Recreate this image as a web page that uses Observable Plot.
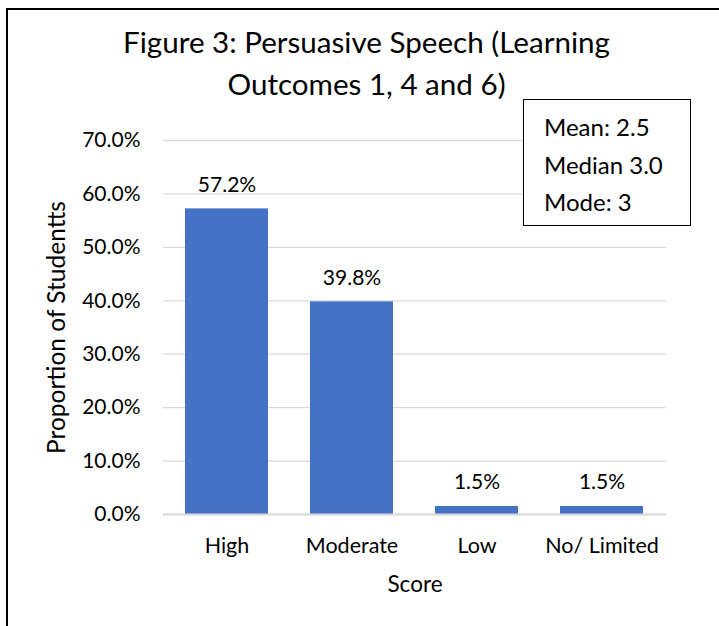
<!DOCTYPE html>
<html>
<head>
<meta charset="utf-8">
<script src="https://cdn.jsdelivr.net/npm/d3@7"></script>
<script src="https://cdn.jsdelivr.net/npm/@observablehq/plot@0.6"></script>
<style>
  html, body { margin: 0; padding: 0; background: #fff; overflow: hidden; }
  #wrap { position: relative; width: 719px; height: 626px; font-family: Lato, "Open Sans", sans-serif; color: #000; }
  #border { position: absolute; left: 6px; top: 8px; width: 800px; height: 700px; border-left: 2.5px solid #000; border-top: 2.5px solid #000; box-sizing: border-box; pointer-events: none; }
  #title { position: absolute; left: 0; width: 733px; top: 21px; text-align: center; font-size: 29.6px; line-height: 42px; }
  #stats { position: absolute; left: 523px; top: 99px; width: 168px; height: 127px; box-sizing: border-box; border: 1.5px solid #000; background: #fff; font-size: 24px; padding: 8px 0 0 20px; line-height: 37.5px; }
  #chart { position: absolute; left: 0; top: 0; }
</style>
</head>
<body>
<div id="wrap">
  <div id="chart"></div>
  <div id="border"></div>
  <div id="title">Figure 3: Persuasive Speech (Learning<br>Outcomes 1, 4 and 6)</div>
  <div id="stats"></div>
</div>
<script>
const categories = ["High", "Moderate", "Low", "No/ Limited"];
const proportions = [0.572, 0.398, 0.015, 0.015];
const yTicks = [0, 0.1, 0.2, 0.3, 0.4, 0.5, 0.6, 0.7];
const statsLines = ["Mean: 2.5", "Median 3.0", "Mode: 3"];
const titleText = "Figure 3: Persuasive Speech (Learning Outcomes 1, 4 and 6)";
const xLabel = "Score";
const yLabel = "Proportion of Studentts";

const data = categories.map((c, i) => ({category: c, value: proportions[i]}));
const fmt = d3.format(".1%");

const chart = Plot.plot({
  width: 719,
  height: 626,
  marginLeft: 163,
  marginRight: 53,
  marginTop: 140,
  marginBottom: 112,
  style: {fontFamily: "Lato, 'Open Sans', sans-serif", fontSize: "21px", color: "#000", background: "transparent"},
  x: {domain: categories, paddingInner: 1/3, paddingOuter: 1/6, label: null},
  y: {domain: [0, 0.7], ticks: yTicks, label: null},
  marks: [
    Plot.gridY(yTicks, {stroke: "#d9d9d9", strokeOpacity: 1, strokeWidth: 1.3}),
    Plot.barY(data, {x: "category", y: "value", fill: "#4472c4"}),
    Plot.ruleY([0], {stroke: "#d9d9d9", strokeWidth: 2}),
    Plot.text(data, {x: "category", y: "value", text: d => fmt(d.value), dy: -24, fontSize: 21, fill: "#000"}),
    Plot.axisY(yTicks, {tickFormat: fmt, tickSize: 0, tickPadding: 23, fontSize: 21, label: null, fill: "#000"}),
    Plot.axisX({tickSize: 0, tickPadding: 23, fontSize: 21.5, label: null, fill: "#000"}),
    Plot.text([xLabel], {frameAnchor: "bottom", dy: 77, fontSize: 22.5, fill: "#000"}),
    Plot.text([yLabel], {frameAnchor: "left", textAnchor: "middle", dx: -106, rotate: -90, fontSize: 24.5, fill: "#000"})
  ]
});
document.getElementById("chart").appendChild(chart);
document.getElementById("stats").innerHTML = statsLines.map(s => `<div>${s}</div>`).join("");
</script>
</body>
</html>
